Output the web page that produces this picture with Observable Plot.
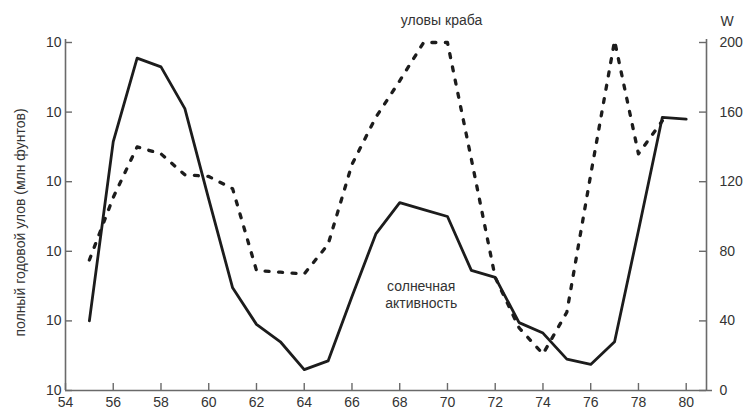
<!DOCTYPE html>
<html>
<head>
<meta charset="utf-8">
<script src="https://cdn.jsdelivr.net/npm/d3@7"></script>
<script src="https://cdn.jsdelivr.net/npm/@observablehq/plot@0.6"></script>
<style>
  body { margin: 0; background: #fff; }
  #chart svg { display: block; }
</style>
</head>
<body>
<div id="chart"></div>
<script>
// ---- data ----
const solarYears = [55,56,57,58,59,60,61,62,63,64,65,66,67,68,69,70,71,72,73,74,75,76,77,78,79,80];
const solarValues = [40,143,191,186,162,110,59,38,28,12,17,54,90,108,104,100,69,65,39,33,18,15,28,92,157,156];

const crabYears = [55,56,57,58,59,60,61,62,63,64,65,66,67,68,69,70,71,72,73,74,75,76,77,78,79];
const crabValues = [75,111,140,136,124,123,116,69,68,67,84,130,157,178,200,200,133,65,36,21,45,124,201,136,155];

const xTicks = [54,56,58,60,62,64,66,68,70,72,74,76,78,80];
const yTicks = [0,40,80,120,160,200];
const leftTickLabels = ["10","10","10","10","10","10"];

const solar = solarYears.map((x, i) => ({x, y: solarValues[i]}));
const crab = crabYears.map((x, i) => ({x, y: crabValues[i]}));

const xMin = 54, xMax = 80.85;
const axisColor = "#6a6a6a";
const textColor = "#333";
const lineColor = "#1c1c1c";

const chart = Plot.plot({
  width: 748,
  height: 412,
  marginLeft: 65,
  marginRight: 42,
  marginTop: 42,
  marginBottom: 22,
  style: {fontFamily: "'Liberation Sans', Arial, sans-serif", fontSize: "14px", color: textColor, background: "#fff", overflow: "visible"},
  x: {domain: [xMin, xMax]},
  y: {domain: [0, 200]},
  marks: [
    // axis lines
    Plot.ruleX([xMin, xMax], {stroke: axisColor, strokeWidth: 1.6, insetTop: -3, insetBottom: 0}),
    Plot.ruleY([0], {stroke: axisColor, strokeWidth: 1.6, insetRight: -6}),
    // inward ticks
    Plot.ruleX(xTicks, {x: d => d, y1: 0, y2: 0, insetTop: -7, stroke: axisColor, strokeWidth: 1.4}),
    Plot.ruleY(yTicks, {y: d => d, x1: xMin, x2: xMin, insetRight: -7, stroke: axisColor, strokeWidth: 1.4}),
    Plot.ruleY(yTicks, {y: d => d, x1: xMax, x2: xMax, insetLeft: -7, stroke: axisColor, strokeWidth: 1.4}),
    // tick labels
    Plot.axisX(xTicks, {tickSize: 0, tickPadding: 7, label: null, fontSize: 14, fill: textColor, tickFormat: d => String(d)}),
    Plot.axisY(yTicks, {anchor: "left", tickSize: 0, tickPadding: 4, label: null, fontSize: 14, fill: textColor, tickFormat: (d, i) => leftTickLabels[i]}),
    Plot.axisY(yTicks, {anchor: "right", tickSize: 0, tickPadding: 13, label: null, fontSize: 14, fill: textColor, tickFormat: d => String(d)}),
    // axis titles
    Plot.text(["W"], {x: xMax, y: 200, dx: 14, dy: -21, textAnchor: "start", fontSize: 14, fill: textColor}),
    Plot.text(["полный годовой улов (млн фунтов)"], {frameAnchor: "left", textAnchor: "middle", dx: -45, dy: 6, rotate: -90, fontSize: 14, fill: textColor}),
    // series
    Plot.line(crab, {x: "x", y: "y", stroke: lineColor, strokeWidth: 3.3, strokeDasharray: "4,9.5", strokeLinecap: "round"}),
    Plot.line(solar, {x: "x", y: "y", stroke: lineColor, strokeWidth: 2.8}),
    // annotations
    Plot.text(["уловы краба"], {x: 69.75, y: 212.5, fontSize: 14, fill: textColor}),
    Plot.text(["солнечная"], {x: 68.9, y: 60, fontSize: 14, fill: textColor}),
    Plot.text(["активность"], {x: 68.9, y: 50, fontSize: 14, fill: textColor})
  ]
});

document.getElementById("chart").appendChild(chart);
</script>
</body>
</html>
